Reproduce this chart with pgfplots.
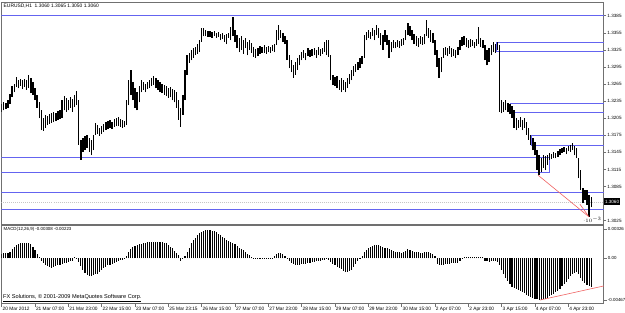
\documentclass[border=0pt]{standalone}
\usepackage{pgfplots}
\pgfplotsset{compat=1.18}
\usepackage{pgfplotstable}
\usepackage{fontspec}
\setmainfont{Liberation Sans}
\definecolor{mtblue}{RGB}{100,100,240}
\definecolor{mtred}{RGB}{240,100,100}
\definecolor{frame}{RGB}{112,112,112}

\pgfplotstableread{
i hi lo
0 1.3230 1.3216
1 1.3233 1.3219
2 1.3232 1.3221
3 1.3237 1.3223
4 1.3248 1.3230
5 1.3262 1.3242
6 1.3265 1.3251
7 1.3277 1.3260
8 1.3272 1.3258
9 1.3274 1.3262
10 1.3272 1.3256
11 1.3274 1.3260
12 1.3272 1.3255
13 1.3281 1.3258
14 1.3276 1.3249
15 1.3269 1.3246
16 1.3258 1.3237
17 1.3246 1.3223
18 1.3233 1.3205
19 1.3219 1.3184
20 1.3205 1.3183
21 1.3211 1.3188
22 1.3209 1.3193
23 1.3212 1.3195
24 1.3214 1.3197
25 1.3216 1.3198
26 1.3214 1.3200
27 1.3218 1.3202
28 1.3219 1.3204
29 1.3237 1.3205
30 1.3244 1.3219
31 1.3241 1.3216
32 1.3237 1.3219
33 1.3242 1.3223
34 1.3239 1.3216
35 1.3246 1.3225
36 1.3253 1.3228
37 1.3237 1.3158
38 1.3167 1.3132
39 1.3170 1.3146
40 1.3174 1.3149
41 1.3176 1.3153
42 1.3170 1.3146
43 1.3167 1.3140
44 1.3176 1.3149
45 1.3197 1.3176
46 1.3193 1.3177
47 1.3188 1.3174
48 1.3191 1.3177
49 1.3195 1.3181
50 1.3198 1.3184
51 1.3200 1.3186
52 1.3202 1.3188
53 1.3198 1.3186
54 1.3204 1.3190
55 1.3205 1.3191
56 1.3207 1.3191
57 1.3204 1.3190
58 1.3202 1.3188
59 1.3200 1.3190
60 1.3237 1.3193
61 1.3272 1.3228
62 1.3290 1.3246
63 1.3269 1.3237
64 1.3258 1.3223
65 1.3251 1.3219
66 1.3262 1.3233
67 1.3272 1.3251
68 1.3269 1.3255
69 1.3265 1.3251
70 1.3269 1.3256
71 1.3272 1.3258
72 1.3276 1.3262
73 1.3279 1.3263
74 1.3276 1.3258
75 1.3272 1.3255
76 1.3269 1.3251
77 1.3265 1.3249
78 1.3263 1.3246
79 1.3262 1.3244
80 1.3258 1.3241
81 1.3260 1.3242
82 1.3256 1.3237
83 1.3255 1.3233
84 1.3251 1.3223
85 1.3237 1.3202
86 1.3223 1.3190
87 1.3246 1.3211
88 1.3290 1.3237
89 1.3316 1.3281
90 1.3320 1.3302
91 1.3325 1.3307
92 1.3328 1.3311
93 1.3330 1.3316
94 1.3335 1.3318
95 1.3342 1.3321
96 1.3363 1.3339
97 1.3363 1.3349
98 1.3360 1.3349
99 1.3358 1.3348
100 1.3358 1.3348
101 1.3356 1.3346
102 1.3358 1.3349
103 1.3355 1.3346
104 1.3356 1.3348
105 1.3353 1.3342
106 1.3355 1.3344
107 1.3351 1.3339
108 1.3353 1.3335
109 1.3355 1.3346
110 1.3365 1.3342
111 1.3383 1.3349
112 1.3360 1.3339
113 1.3351 1.3328
114 1.3346 1.3321
115 1.3349 1.3325
116 1.3342 1.3318
117 1.3346 1.3328
118 1.3339 1.3316
119 1.3342 1.3325
120 1.3337 1.3320
121 1.3330 1.3313
122 1.3327 1.3311
123 1.3328 1.3314
124 1.3332 1.3318
125 1.3330 1.3320
126 1.3334 1.3320
127 1.3330 1.3318
128 1.3332 1.3321
129 1.3330 1.3320
130 1.3334 1.3323
131 1.3335 1.3321
132 1.3360 1.3334
133 1.3369 1.3342
134 1.3360 1.3346
135 1.3355 1.3339
136 1.3349 1.3335
137 1.3342 1.3307
138 1.3316 1.3293
139 1.3307 1.3286
140 1.3298 1.3276
141 1.3304 1.3281
142 1.3311 1.3290
143 1.3316 1.3298
144 1.3321 1.3307
145 1.3325 1.3311
146 1.3320 1.3307
147 1.3328 1.3314
148 1.3325 1.3313
149 1.3327 1.3314
150 1.3328 1.3316
151 1.3325 1.3311
152 1.3330 1.3316
153 1.3327 1.3314
154 1.3328 1.3318
155 1.3339 1.3321
156 1.3342 1.3316
157 1.3342 1.3313
158 1.3316 1.3272
159 1.3281 1.3263
160 1.3277 1.3262
161 1.3279 1.3258
162 1.3272 1.3255
163 1.3276 1.3251
164 1.3272 1.3255
165 1.3269 1.3251
166 1.3276 1.3258
167 1.3283 1.3265
168 1.3290 1.3272
169 1.3297 1.3279
170 1.3300 1.3286
171 1.3304 1.3290
172 1.3311 1.3293
173 1.3314 1.3300
174 1.3351 1.3311
175 1.3356 1.3342
176 1.3360 1.3346
177 1.3356 1.3344
178 1.3363 1.3349
179 1.3360 1.3342
180 1.3369 1.3351
181 1.3363 1.3346
182 1.3355 1.3334
183 1.3351 1.3325
184 1.3360 1.3339
185 1.3351 1.3334
186 1.3342 1.3311
187 1.3339 1.3321
188 1.3342 1.3328
189 1.3339 1.3328
190 1.3342 1.3330
191 1.3341 1.3328
192 1.3344 1.3332
193 1.3346 1.3334
194 1.3360 1.3342
195 1.3372 1.3351
196 1.3367 1.3349
197 1.3360 1.3342
198 1.3353 1.3335
199 1.3349 1.3332
200 1.3346 1.3330
201 1.3349 1.3335
202 1.3348 1.3334
203 1.3353 1.3335
204 1.3377 1.3349
205 1.3363 1.3346
206 1.3360 1.3339
207 1.3355 1.3337
208 1.3342 1.3316
209 1.3325 1.3295
210 1.3311 1.3276
211 1.3313 1.3286
212 1.3328 1.3311
213 1.3330 1.3316
214 1.3328 1.3314
215 1.3332 1.3318
216 1.3328 1.3313
217 1.3327 1.3314
218 1.3325 1.3311
219 1.3330 1.3316
220 1.3342 1.3325
221 1.3348 1.3332
222 1.3349 1.3334
223 1.3346 1.3330
224 1.3342 1.3328
225 1.3344 1.3330
226 1.3342 1.3332
227 1.3339 1.3328
228 1.3344 1.3332
229 1.3365 1.3335
230 1.3346 1.3330
231 1.3342 1.3328
232 1.3334 1.3307
233 1.3325 1.3298
234 1.3328 1.3304
235 1.3334 1.3316
236 1.3339 1.3321
237 1.3335 1.3320
238 1.3339 1.3325
239 1.3334 1.3216
240 1.3237 1.3214
241 1.3233 1.3216
242 1.3237 1.3219
243 1.3232 1.3216
244 1.3230 1.3212
245 1.3226 1.3205
246 1.3219 1.3188
247 1.3205 1.3184
248 1.3202 1.3188
249 1.3207 1.3190
250 1.3202 1.3184
251 1.3205 1.3188
252 1.3198 1.3176
253 1.3188 1.3167
254 1.3176 1.3158
255 1.3170 1.3149
256 1.3163 1.3140
257 1.3149 1.3114
258 1.3140 1.3105
259 1.3135 1.3111
260 1.3140 1.3118
261 1.3139 1.3114
262 1.3140 1.3123
263 1.3144 1.3132
264 1.3142 1.3133
265 1.3146 1.3135
266 1.3144 1.3135
267 1.3147 1.3137
268 1.3151 1.3140
269 1.3153 1.3144
270 1.3154 1.3146
271 1.3153 1.3142
272 1.3156 1.3147
273 1.3158 1.3146
274 1.3161 1.3149
275 1.3156 1.3140
276 1.3153 1.3135
277 1.3135 1.3100
278 1.3114 1.3079
279 1.3082 1.3056
280 1.3079 1.3061
281 1.3079 1.3053
282 1.3070 1.3032
283 1.3067 1.3049
}\bars

\pgfplotstableread{
i m
0 0.0005
1 0.0006
2 0.0006
3 0.0006
4 0.0007
5 0.0010
6 0.0013
7 0.0015
8 0.0016
9 0.0017
10 0.00175
11 0.00175
12 0.00175
13 0.0017
14 0.0016
15 0.0013
16 0.0009
17 0.0005
18 0.0002
19 -0.00026
20 -0.0005
21 -0.0007
22 -0.00085
23 -0.00098
24 -0.00104
25 -0.0010
26 -0.0009
27 -0.0008
28 -0.00074
29 -0.00065
30 -0.00058
31 -0.0005
32 -0.00045
33 -0.00035
34 -0.00026
35 0.0001
36 0.00003
37 -0.0004
38 -0.0009
39 -0.0013
40 -0.0016
41 -0.00185
42 -0.0020
43 -0.00198
44 -0.0019
45 -0.0018
46 -0.0017
47 -0.0015
48 -0.0013
49 -0.0011
50 -0.00093
51 -0.0008
52 -0.0007
53 -0.0006
54 -0.0005
55 -0.0004
56 -0.0003
57 -0.00023
58 -0.00015
59 -0.0001
60 0.0003
61 0.00075
62 0.00105
63 0.0013
64 0.0014
65 0.0015
66 0.0016
67 0.00165
68 0.0017
69 0.00175
70 0.00178
71 0.0018
72 0.00182
73 0.00184
74 0.00185
75 0.00186
76 0.00186
77 0.00182
78 0.00175
79 0.00168
80 0.0015
81 0.0013
82 0.0011
83 0.00085
84 0.0006
85 0.0004
86 -0.00026
87 -0.0001
88 0.0003
89 0.0007
90 0.0012
91 0.0017
92 0.0020
93 0.0023
94 0.0026
95 0.0028
96 0.00295
97 0.0031
98 0.00316
99 0.00318
100 0.00315
101 0.0031
102 0.00305
103 0.0029
104 0.00275
105 0.0026
106 0.0024
107 0.00225
108 0.0021
109 0.00195
110 0.00185
111 0.00175
112 0.00155
113 0.0014
114 0.0012
115 0.00105
116 0.0009
117 0.0007
118 0.0005
119 0.00035
120 0.0002
121 -0.00005
122 -0.00007
123 -0.00008
124 -0.00007
125 -0.00006
126 -0.00007
127 -0.00008
128 -0.00007
129 -0.00005
130 0.00005
131 0.0003
132 0.00045
133 0.00055
134 0.0006
135 0.0005
136 0.0003
137 0.00005
138 -0.0003
139 -0.0005
140 -0.00065
141 -0.00074
142 -0.00072
143 -0.0007
144 -0.00066
145 -0.00063
146 -0.0006
147 -0.00055
148 -0.0005
149 -0.00045
150 -0.0004
151 -0.00035
152 -0.0003
153 -0.00025
154 -0.0002
155 -0.00015
156 -0.0001
157 -0.0002
158 -0.0004
159 -0.0006
160 -0.00075
161 -0.00093
162 -0.0011
163 -0.00125
164 -0.0014
165 -0.0015
166 -0.00148
167 -0.00142
168 -0.00134
169 -0.0010
170 -0.0006
171 -0.0003
172 -0.0001
173 0.0003
174 0.00075
175 0.00095
176 0.00115
177 0.0013
178 0.0014
179 0.00146
180 0.0015
181 0.00148
182 0.0014
183 0.0013
184 0.0012
185 0.0011
186 0.0010
187 0.0009
188 0.0008
189 0.00075
190 0.0007
191 0.00065
192 0.0006
193 0.00065
194 0.0008
195 0.0010
196 0.00095
197 0.00085
198 0.00075
199 0.0007
200 0.00065
201 0.00062
202 0.0006
203 0.00065
204 0.0007
205 0.00072
206 0.0006
207 0.00045
208 0.0003
209 -0.0006
210 -0.0007
211 -0.00075
212 -0.00072
213 -0.00068
214 -0.00064
215 -0.0006
216 -0.00058
217 -0.00055
218 -0.00052
219 -0.0005
220 -0.0003
221 -0.0001
222 0.0001
223 0.0002
224 0.0002
225 0.0002
226 0.0002
227 0.0002
228 0.0002
229 0.0002
230 0.0002
231 0.0002
232 -0.00026
233 -0.0003
234 -0.0004
235 -0.00035
236 -0.0003
237 -0.00026
238 -0.0004
239 -0.0008
240 -0.0013
241 -0.00175
242 -0.0022
243 -0.00255
244 -0.0029
245 -0.0032
246 -0.00335
247 -0.00348
248 -0.00355
249 -0.0036
250 -0.00375
251 -0.0039
252 -0.00405
253 -0.0042
254 -0.0043
255 -0.0044
256 -0.0045
257 -0.00455
258 -0.00467
259 -0.00462
260 -0.00456
261 -0.0045
262 -0.0044
263 -0.00425
264 -0.0041
265 -0.0040
266 -0.0038
267 -0.0036
268 -0.0034
269 -0.00315
270 -0.0029
271 -0.0026
272 -0.0023
273 -0.0020
274 -0.0017
275 -0.0016
276 -0.0015
277 -0.0018
278 -0.0022
279 -0.0025
280 -0.0028
281 -0.0030
282 -0.00315
283 -0.00325
}\macd

\begin{document}
\begin{tikzpicture}[x=1pt,y=1pt]
\path[use as bounding box] (0,0) rectangle (625,-313);
\fill[white] (0,0) rectangle (625,-313);
\pgfplotsset{mtframe/.style={
  scale only axis, xmin=-0.1, xmax=289.05,
  axis line style={frame, line width=0.8pt},
  tick style={frame, line width=0.6pt},
  tick align=outside, major tick length=2.5pt,
  ytick pos=right, yticklabel pos=right,
  yticklabel style={font=\fontsize{4.6}{5}\selectfont, anchor=west, inner sep=0pt, xshift=1.0pt},
}}
% ---------------- price panel
\begin{axis}[mtframe, at={(1.5pt,-224.5pt)}, anchor=south west,
  width=602.3pt, height=222.5pt,
  ymin=1.30184, ymax=1.34091,
  xtick=\empty,
  ytick={1.3025,1.3085,1.3115,1.3145,1.3175,1.3205,1.3235,1.3265,1.3295,1.3325,1.3355,1.3385},
  yticklabels={1.3025,1.3085,1.3115,1.3145,1.3175,1.3205,1.3235,1.3265,1.3295,1.3325,1.3355,1.3385},
]
\addplot[gray!45, line width=0.7pt, dash pattern=on 1pt off 1pt, forget plot] coordinates {(-0.1,1.3058) (289.05,1.3058)};
\addplot[mtblue, line width=0.8pt] coordinates {(-0.1,1.3386) (289.05,1.3386)};
\addplot[mtblue, line width=0.8pt] coordinates {(289.05,1.3338) (237.3,1.3338) (237.3,1.3323) (289.05,1.3323)};
\addplot[mtblue, line width=0.8pt] coordinates {(289.05,1.3231) (244,1.3231) (244,1.3215) (289.05,1.3215)};
\addplot[mtblue, line width=0.8pt] coordinates {(289.05,1.3174) (254.4,1.3174) (254.4,1.3158) (289.05,1.3158)};
\addplot[mtblue, line width=0.8pt] coordinates {(-0.1,1.3136) (262.7,1.3136) (262.7,1.3110) (-0.1,1.3110)};
\addplot[mtblue, line width=0.8pt] coordinates {(-0.1,1.3075) (289.05,1.3075)};
\addplot[mtblue, line width=0.8pt] coordinates {(-0.1,1.3045) (289.05,1.3045)};
\addplot[only marks, mark=*, mark size=0pt, mark options={draw=none, fill=none},
  error bars/.cd, y dir=plus, y explicit, error mark=none,
  error bar style={line width=1.3pt, draw=black}]
  table[x=i, y=lo, y error expr=\thisrow{hi}-\thisrow{lo}] {\bars};
\addplot[mtred, line width=0.6pt] coordinates {(257.5,1.3105) (281.9,1.3032)};
\addplot[mtred, line width=0.6pt] coordinates {(277.6,1.3054) (281.9,1.3032)};
\end{axis}
% ---------------- MACD panel
\begin{axis}[mtframe, at={(1.5pt,-303.5pt)}, anchor=south west,
  width=602.3pt, height=78pt,
  major tick length=3pt,
  ymin=-0.005053, ymax=0.003667,
  ytick={-0.00467,0,0.00326},
  yticklabels={-0.00467,0.00,0.00326},
  yticklabel style={font=\fontsize{4.4}{5}\selectfont},
  xtick pos=left,
  xtick={0,16,...,272},
  xticklabels={20 Mar 2012,21 Mar 07:00,21 Mar 23:00,22 Mar 15:00,23 Mar 07:00,25 Mar 23:15,26 Mar 15:00,27 Mar 07:00,27 Mar 23:00,28 Mar 15:00,29 Mar 07:00,29 Mar 23:00,30 Mar 15:00,2 Apr 07:00,2 Apr 23:00,3 Apr 15:00,4 Apr 07:00,4 Apr 23:00},
  xticklabel style={font=\fontsize{4.8}{5}\selectfont, anchor=north west, inner sep=0pt, xshift=0.8pt, yshift=-0.8pt},
]
\addplot[ycomb, black, line width=1.1pt, mark=none] table[x=i, y=m] {\macd};
\addplot[mtred, line width=0.6pt] coordinates {(258.4,-0.00467) (289.05,-0.00309)};
\end{axis}
% ---------------- texts
\node[anchor=west, inner sep=0pt, font=\fontsize{4.9}{5}\selectfont] at (3.5,-6) {EURUSD,H1\ \ 1.3060 1.3065 1.3050 1.3060};
\node[anchor=west, inner sep=0pt, font=\fontsize{4.4}{5}\selectfont] at (3.5,-229.5) {MACD(12,26,9) -0.00308 -0.00223};
\node[anchor=west, inner sep=0pt, font=\fontsize{5.6}{6}\selectfont] at (3,-298.5) {\underline{FX Solutions, \textcopyright\ 2001-2009 MetaQuotes Software Corp.}};
\node[anchor=west, fill=black, text=white, inner sep=0.6pt, minimum height=6.5pt, font=\fontsize{4.6}{5}\selectfont] at (604.2,-201.7) {1.3060};
\end{tikzpicture}
\end{document}
